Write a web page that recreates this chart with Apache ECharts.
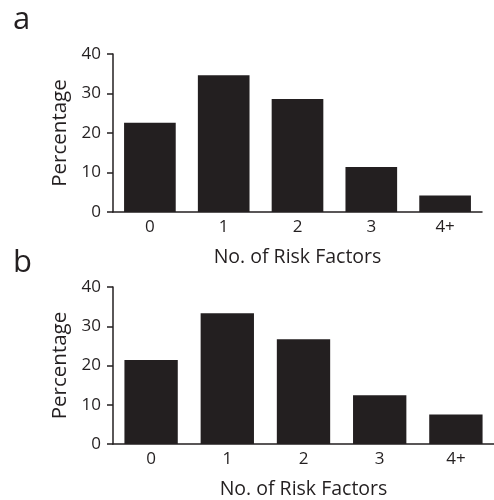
<!DOCTYPE html>
<html><head><meta charset="utf-8">
<script src="https://cdn.jsdelivr.net/npm/echarts@6/dist/echarts.min.js"></script>
<style>html,body{margin:0;padding:0;background:#fff}#c{width:494px;height:500px}</style>
</head><body><div id="c"></div>
<script>
const categories = ['0', '1', '2', '3', '4+'];
const valuesA = [22.6, 34.6, 28.6, 11.4, 4.2];
const valuesB = [21.4, 33.3, 26.7, 12.4, 7.5];
const yTicks = [0, 10, 20, 30, 40];
const panelLabels = ['a', 'b'];
const xTitle = 'No. of Risk Factors';
const yTitle = 'Percentage';

const ink = '#231f20';
const font = '"Open Sans", sans-serif';
const chart = echarts.init(document.getElementById('c'));

function xAx(i) {
  return {
    type: 'category', gridIndex: i, data: categories,
    name: xTitle, nameLocation: 'middle', nameGap: 35,
    nameTextStyle: { fontSize: 19.5, color: ink, fontFamily: font },
    axisLine: { lineStyle: { color: ink, width: 1.5 } },
    axisTick: { length: 7, lineStyle: { color: ink, width: 1.5 }, alignWithLabel: false },
    axisLabel: { fontSize: 17, color: ink, fontFamily: font, margin: 7 }
  };
}
function yAx(i) {
  return {
    type: 'value', gridIndex: i, min: yTicks[0], max: yTicks[yTicks.length - 1], interval: 10,
    name: yTitle, nameLocation: 'middle', nameGap: 37,
    nameTextStyle: { fontSize: 20.5, color: ink, fontFamily: font },
    axisLine: { show: true, lineStyle: { color: ink, width: 1.5 } },
    axisTick: { show: true, length: 6, lineStyle: { color: ink, width: 1.5 } },
    axisLabel: { fontSize: 17, color: ink, fontFamily: font, margin: 12 },
    splitLine: { show: false }
  };
}

chart.setOption({
  animation: false,
  backgroundColor: '#fff',
  title: [
    { text: panelLabels[0], left: 8, top: 0, textStyle: { fontSize: 31, fontWeight: 'normal', color: ink, fontFamily: font } },
    { text: panelLabels[1], left: 8, top: 243, textStyle: { fontSize: 31, fontWeight: 'normal', color: ink, fontFamily: font } }
  ],
  grid: [
    { left: 113, top: 54, width: 369, height: 158 },
    { left: 113, top: 287, width: 385, height: 158 }
  ],
  xAxis: [xAx(0), xAx(1)],
  yAxis: [yAx(0), yAx(1)],
  series: [
    { type: 'bar', xAxisIndex: 0, yAxisIndex: 0, data: valuesA, barWidth: '70%', itemStyle: { color: ink } },
    { type: 'bar', xAxisIndex: 1, yAxisIndex: 1, data: valuesB, barWidth: '70%', itemStyle: { color: ink } }
  ]
});
</script></body></html>
